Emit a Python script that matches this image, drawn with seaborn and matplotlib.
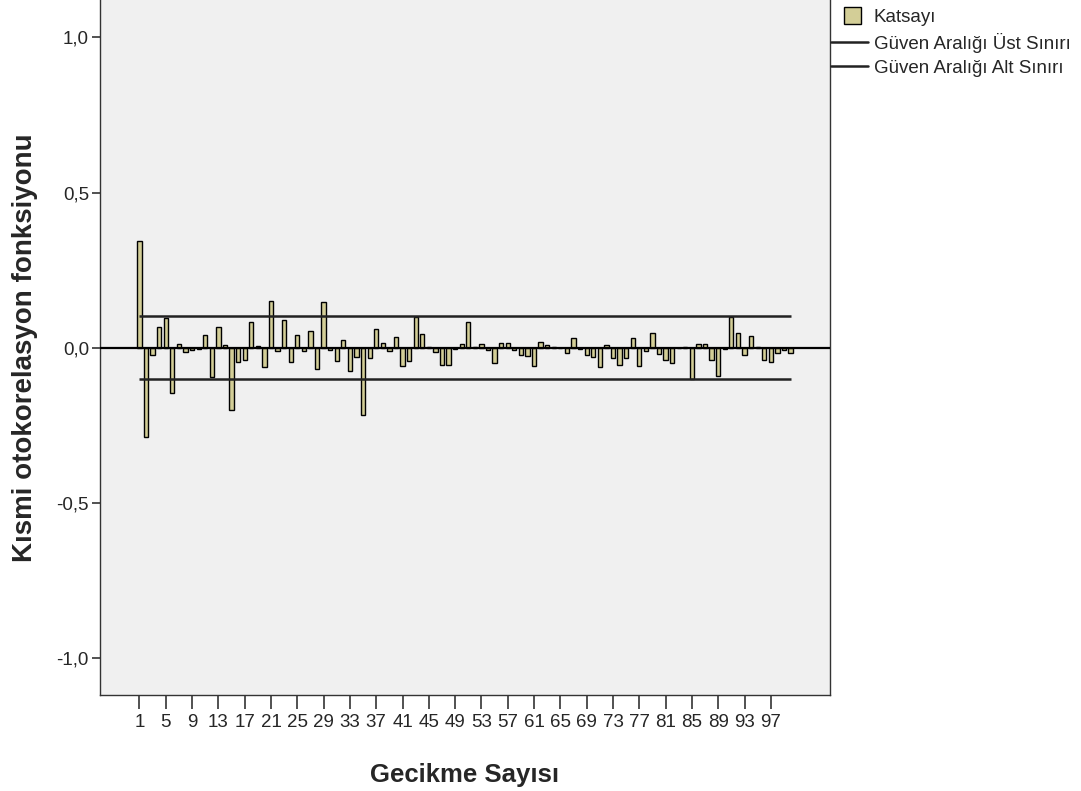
import numpy as np
import pandas as pd
import seaborn as sns
import matplotlib.pyplot as plt
from matplotlib.patches import Patch, Rectangle
from matplotlib.lines import Line2D
from matplotlib.legend_handler import HandlerPatch

# partial autocorrelation coefficients, lags 1..100
lags = list(range(1, 101))
katsayi = [
    0.345, -0.287, -0.022, 0.066, 0.097, -0.146, 0.012, -0.012, -0.008, -0.003,
    0.041, -0.093, 0.068, 0.010, -0.199, -0.046, -0.039, 0.083, 0.007, -0.061,
    0.152, -0.009, 0.088, -0.047, 0.042, -0.011, 0.055, -0.069, 0.147, -0.008,
    -0.042, 0.024, -0.076, -0.028, -0.215, -0.033, 0.061, 0.017, -0.011, 0.034,
    -0.060, -0.042, 0.099, 0.044, 0.004, -0.015, -0.055, -0.055, -0.003, 0.012,
    0.083, 0.002, 0.012, -0.007, -0.049, 0.017, 0.015, -0.008, -0.022, -0.025,
    -0.058, 0.020, 0.010, 0.003, 0.001, -0.017, 0.031, -0.005, -0.022, -0.031,
    -0.062, 0.010, -0.033, -0.055, -0.033, 0.033, -0.057, -0.010, 0.049, -0.020,
    -0.039, -0.049, 0.000, 0.003, -0.100, 0.013, 0.013, -0.039, -0.092, -0.005,
    0.099, 0.047, -0.022, 0.039, 0.004, -0.039, -0.046, -0.017, -0.006, -0.016,
]
guven_ust = 0.102
guven_alt = -0.102
tick_lags = list(range(1, 101, 4))

df = pd.DataFrame({'lag': lags, 'katsayi': katsayi})

sns.set_style('white')
plt.rcParams['font.family'] = ['Liberation Sans', 'DejaVu Sans']

bar_color = '#d3ce97'
fig = plt.figure(figsize=(10.81, 7.91), dpi=100)
ax = fig.add_axes([100 / 1081, 96 / 791, 730 / 1081, 695 / 791])
ax.set_facecolor('#f0f0f0')

sns.barplot(data=df, x='lag', y='katsayi', order=lags, color=bar_color,
            edgecolor='black', linewidth=1.0, width=0.65, saturation=1, ax=ax)

n = len(lags)
ax.axhline(0, color='black', lw=1.6, zorder=3)
ax.hlines([guven_ust, guven_alt], 0, n - 1, color='#222222', lw=1.8, zorder=3)

ax.set_xlim(-6, 105)
ax.set_ylim(-1.118, 1.12)
ax.set_yticks([-1.0, -0.5, 0.0, 0.5, 1.0])
ax.set_yticklabels(['-1,0', '-0,5', '0,0', '0,5', '1,0'], fontsize=13.5)
ax.set_xticks([lags.index(t) for t in tick_lags])
ax.set_xticklabels([str(t) for t in tick_lags], fontsize=13.5)
ax.tick_params(axis='x', length=10, width=1.2, color='#333333', pad=3.5, direction='out', bottom=True)
ax.tick_params(axis='y', length=6, width=1.2, color='#333333', pad=2, direction='out', left=True)

for side in ['left', 'bottom', 'right']:
    ax.spines[side].set_color('#333333')
    ax.spines[side].set_linewidth(1)
ax.spines['top'].set_visible(False)

ax.set_xlabel('Gecikme Sayısı', fontsize=18.5, fontweight='bold', labelpad=23)
ax.set_ylabel('Kısmi otokorelasyon fonksiyonu', fontsize=20, fontweight='bold', labelpad=13)


def square_patch(legend, orig_handle, xdescent, ydescent, width, height, fontsize):
    s = height * 1.3
    return Rectangle((width / 2 - s / 2 - xdescent + 2, height / 2 - s / 2 - ydescent), s, s)


handles = [
    Patch(facecolor=bar_color, edgecolor='black', linewidth=1.0),
    Line2D([0], [0], color='#222222', lw=1.8),
    Line2D([0], [0], color='#222222', lw=1.8),
]
labels = ['Katsayı', 'Güven Aralığı Üst Sınırı', 'Güven Aralığı Alt Sınırı']
fig.legend(handles, labels, loc='upper left', bbox_to_anchor=(831 / 1081, 1 - 9 / 791),
           frameon=False, fontsize=13.5, handlelength=2.0, handletextpad=0.27,
           labelspacing=0.36, borderpad=0, borderaxespad=0,
           handler_map={Patch: HandlerPatch(patch_func=square_patch)})

plt.savefig('out.png', dpi=100)
